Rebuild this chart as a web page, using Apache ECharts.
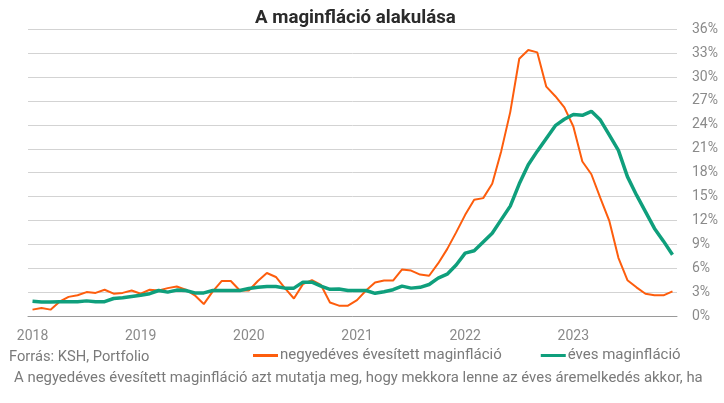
<!DOCTYPE html>
<html><head><meta charset="utf-8">
<script src="https://cdn.jsdelivr.net/npm/echarts@6/dist/echarts.min.js"></script>
<style>html,body{margin:0;padding:0;background:#fff}#c{width:724px;height:403px}</style>
</head><body><div id="c"></div>
<script>
var years = ['2018','2019','2020','2021','2022','2023'];
var yTicks = [0,3,6,9,12,15,18,21,24,27,30,33,36];
var seriesNames = ['negyedéves évesített maginfláció','éves maginfláció'];
var negyedeves = [
  0.8,1.0,0.8,1.8,2.4,2.6,3.0,2.9,3.3,2.8,2.9,3.2,
  2.8,3.3,3.2,3.5,3.7,3.3,2.6,1.5,3.1,4.4,4.4,3.2,
  3.2,4.4,5.4,4.9,3.5,2.2,4.0,4.5,3.9,1.7,1.3,1.3,
  2.0,3.2,4.2,4.45,4.45,5.85,5.7,5.2,5.05,6.6,8.4,10.5,
  12.7,14.6,14.8,16.6,20.7,25.6,32.3,33.4,33.1,28.8,27.6,26.2,
  23.8,19.4,17.8,14.8,11.9,7.3,4.5,3.6,2.8,2.6,2.6,3.1
];
var eves = [
  1.85,1.75,1.75,1.8,1.8,1.8,1.9,1.8,1.8,2.2,2.3,2.45,
  2.6,2.8,3.2,3.0,3.25,3.2,2.9,2.9,3.2,3.2,3.2,3.2,
  3.45,3.6,3.7,3.7,3.5,3.5,4.25,4.25,3.75,3.35,3.4,3.2,
  3.2,3.2,2.85,3.05,3.3,3.75,3.5,3.6,3.95,4.75,5.25,6.4,
  7.9,8.2,9.3,10.4,12.1,13.8,16.6,19.0,20.7,22.3,23.9,24.7,
  25.3,25.2,25.7,24.6,22.7,20.8,17.5,15.2,13.1,11.0,9.4,7.7
];
var months = ['01','02','03','04','05','06','07','08','09','10','11','12'];
var categories = [];
years.forEach(function(y){ months.forEach(function(m){ categories.push(y+'-'+m); }); });

var chart = echarts.init(document.getElementById('c'), null, {renderer:'canvas'});
var FONT = 'Roboto, "Noto Sans", sans-serif';
chart.setOption({
  animation:false,
  backgroundColor:'#ffffff',
  title:[
    {text:'A maginfláció alakulása', left:250, top:4,
     textStyle:{fontFamily:FONT, fontWeight:'bold', fontSize:18.7, color:'#2b2b2b'}},
    {text:'Forrás: KSH, Portfolio', left:4, top:345,
     textStyle:{fontFamily:FONT, fontWeight:'normal', fontSize:14.7, color:'#7a7a7a'}},
    {text:'A negyedéves évesített maginfláció azt mutatja meg, hogy mekkora lenne az éves áremelkedés akkor, ha', left:9, top:366,
     textStyle:{fontFamily:FONT, fontWeight:'normal', fontSize:14.9, color:'#7a7a7a'}}
  ],
  legend:{
    left:248, top:343, itemWidth:25, itemHeight:3, itemGap:39, icon:'rect',
    textStyle:{fontFamily:FONT, fontSize:15, color:'#7a7a7a', padding:[0,0,0,-3]},
    data:seriesNames
  },
  grid:{left:28, right:47, top:29.3, bottom:87, containLabel:false},
  xAxis:{
    type:'category', data:categories, boundaryGap:true,
    axisLine:{show:true, lineStyle:{color:'#9a9a9a', width:1}},
    axisTick:{show:false},
    axisLabel:{
      interval:function(i){ return i % 12 === 0; },
      formatter:function(v){ return v.slice(0,4); },
      fontFamily:FONT, fontSize:14, color:'#8a8a8a', margin:13
    },
    splitLine:{show:false}
  },
  yAxis:{
    type:'value', position:'right', min:yTicks[0], max:yTicks[yTicks.length-1], interval:3,
    axisLine:{show:false}, axisTick:{show:false},
    axisLabel:{formatter:'{value}%', fontFamily:FONT, fontSize:14, color:'#8a8a8a', margin:15},
    splitLine:{show:true, lineStyle:{color:'#d3d3d3', width:1}}
  },
  series:[
    {name:seriesNames[0], type:'line', data:negyedeves, showSymbol:false, symbol:'none',
     lineStyle:{color:'#fd5d0d', width:2}, itemStyle:{color:'#fd5d0d'}, z:2},
    {name:seriesNames[1], type:'line', data:eves, showSymbol:false, symbol:'none',
     lineStyle:{color:'#0f9f7c', width:3.5}, itemStyle:{color:'#0f9f7c'}, z:3}
  ]
});
</script></body></html>
